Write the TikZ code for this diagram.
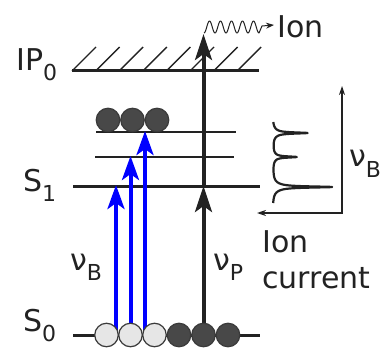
\documentclass[tikz,border=0pt]{standalone}
\usepackage{fontspec}
\setmainfont{DejaVu Sans}
\usetikzlibrary{arrows.meta}
\definecolor{ink}{HTML}{222222}
\definecolor{dk}{HTML}{484848}
\definecolor{lt}{HTML}{E6E6E6}
\definecolor{rim}{HTML}{3A3A3A}
\newcommand{\subtx}[1]{\raisebox{-10pt}{\fontsize{22pt}{22pt}\selectfont #1}}
\begin{document}
\begin{tikzpicture}[x=1pt,y=-1pt,
  lbl/.style={inner sep=0pt, anchor=base west, font=\fontsize{30pt}{30pt}\selectfont, text=ink},
  lvl/.style={line width=2pt, draw=ink},
  mainlvl/.style={line width=3pt, draw=ink},
  hatch/.style={line width=1.4pt, draw=ink},
  blu/.style={line width=4pt, draw=blue, -{Stealth[length=24pt,width=17pt,inset=6pt]}},
  blk/.style={line width=4pt, draw=ink, -{Stealth[length=26pt,width=17pt,inset=6pt]}},
  axis/.style={line width=1.2pt, draw=ink},
  dot/.style={circle, minimum size=23.5pt, inner sep=0pt, draw=rim, line width=1.2pt},
  litdot/.style={dot, fill=lt},
  darkdot/.style={dot, fill=dk},
]
\useasboundingbox (0,0) rectangle (387,347);

% levels
\foreach \i in {0,...,7} \draw[hatch] ({72+23.6*\i},71) -- ++(24,-24);
\draw[mainlvl] (72,71) -- (259,71);
\draw[lvl] (96,132) -- (236,132);
\draw[lvl] (95,157) -- (234,157);
\draw[mainlvl] (73,186) -- (260,186);
\draw[mainlvl] (73,335) -- (260,335);

% labels
\node[lbl] (ip) at (16,71) {IP\subtx{0}};
\node[lbl] (s1) at (23,191) {S\subtx{1}};
\node[lbl] (s0) at (23,331) {S\subtx{0}};
\node[lbl] (nub) at (70,270) {ν\subtx{B}};
\node[lbl] (nup) at (213,270) {ν\subtx{P}};
\node[lbl] (nub2) at (349,167) {ν\subtx{B}};
\node[lbl] (ion) at (277,38) {Ion};
\node[lbl] (ic1) at (262,252) {Ion};
\node[lbl] (ic2) at (262,288) {current};

% arrows
\coordinate (b1s) at (116,333); \coordinate (b1e) at (116,185);
\coordinate (b2s) at (130.5,333); \coordinate (b2e) at (130.5,156);
\coordinate (b3s) at (145,333); \coordinate (b3e) at (145,131);
\draw[blu] (b1s) -- (b1e);
\draw[blu] (b2s) -- (b2e);
\draw[blu] (b3s) -- (b3e);
\coordinate (p0) at (203.5,333);
\coordinate (p1) at (203.5,186);
\coordinate (p2) at (203.5,34);
\draw[blk] (p0) -- (p1);
\draw[blk] (p1) -- (p2);

% wavy photoion line
\coordinate (w1) at (274,25);
\draw[ink, line width=1pt, line join=round, -{Stealth[length=8pt,width=6pt]}]
  plot[domain=0:55, samples=120, variable=\s] ({204+\s}, {27+6*cos(\s*32.727)})
  -- (262,26) -- (w1);

% circles
\node[litdot] (g1) at (106.5,335) {};
\node[litdot] (g2) at (130.5,335) {};
\node[litdot] (g3) at (154.5,335) {};
\node[darkdot] (g4) at (179,335) {};
\node[darkdot] (g5) at (203.5,335) {};
\node[darkdot] (g6) at (228,335) {};
\node[darkdot] (e1) at (108,120) {};
\node[darkdot] (e2) at (132.5,120) {};
\node[darkdot] (e3) at (157,120) {};

% spectrum axes
\coordinate (ax0) at (342,213);
\coordinate (axt) at (342,86);
\coordinate (axl) at (257,213);
\draw[axis, {Stealth[length=9pt,width=6pt]}-{Stealth[length=9pt,width=6pt]}] (axt) -- (ax0) -- (axl);

% spectrum trace
\draw[ink, line width=2.2pt, line join=round]
  plot[domain=122:203, samples=500, variable=\t]
  ({272.5
    +35*(0.85*0.5/((\t-133)^2+0.5)+0.15*16/((\t-133)^2+16))
    +24*(0.85*0.5/((\t-157)^2+0.5)+0.15*16/((\t-157)^2+16))
    +60*(0.85*0.5/((\t-187)^2+0.5)+0.15*16/((\t-187)^2+16))}, \t);
\end{tikzpicture}
\end{document}
